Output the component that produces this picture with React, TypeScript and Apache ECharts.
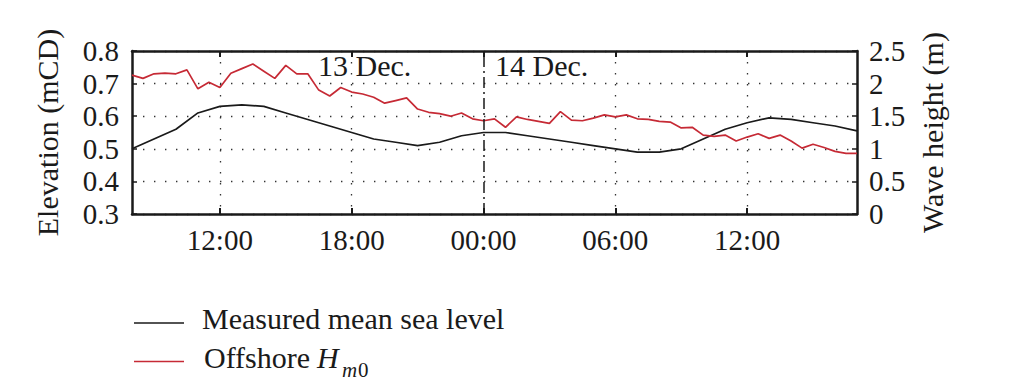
import React, { useEffect, useRef } from "react";
import * as echarts from "echarts";

// Time axis: half-hourly steps from 13 Dec 08:00 to 14 Dec 17:00
const startHour = 8;
const stepHours = 0.5;
const pointCount = 67;
const categories: string[] = Array.from({ length: pointCount }, (_, i) => {
  const h = startHour + i * stepHours;
  const day = h >= 24 ? 14 : 13;
  const hh = Math.floor(h % 24);
  const mm = h % 1 ? "30" : "00";
  return `${day}|${String(hh).padStart(2, "0")}:${mm}`;
});

// Indices of labelled ticks (12:00, 18:00, 00:00, 06:00, 12:00)
const labelIndices = [8, 20, 32, 44, 56];
const gridIndices = [8, 20, 44, 56];
const dayBreakIndex = 32;

// Measured mean sea level (mCD), hourly from 08:00 13 Dec to 17:00 14 Dec
const meanSeaLevel = [
  0.5, 0.53, 0.56, 0.61, 0.63, 0.635, 0.63, 0.61, 0.59, 0.57, 0.55, 0.53,
  0.52, 0.51, 0.52, 0.54, 0.55, 0.55, 0.54, 0.53, 0.52, 0.51, 0.5, 0.49,
  0.49, 0.5, 0.53, 0.56, 0.58, 0.595, 0.59, 0.58, 0.57, 0.555,
];

// Offshore Hm0 (m), half-hourly
const offshoreHm0 = [
  2.13, 2.08, 2.15, 2.16, 2.15, 2.21, 1.92, 2.02, 1.94, 2.16, 2.23, 2.3,
  2.19, 2.08, 2.28, 2.15, 2.15, 1.9, 1.81, 1.94, 1.87, 1.84, 1.79, 1.7,
  1.74, 1.78, 1.61, 1.56, 1.54, 1.5, 1.55, 1.46, 1.43, 1.46, 1.33, 1.49,
  1.45, 1.42, 1.39, 1.57, 1.44, 1.43, 1.47, 1.52, 1.49, 1.52, 1.46, 1.45,
  1.42, 1.41, 1.32, 1.33, 1.21, 1.19, 1.21, 1.12, 1.18, 1.23, 1.16, 1.21,
  1.12, 1.01, 1.07, 1.02, 0.96, 0.93, 0.93,
];

const seriesNames = ["Measured mean sea level", "Offshore Hm0"];
const dayLabels = ["13 Dec.", "14 Dec."];
const leftAxisName = "Elevation (mCD)";
const rightAxisName = "Wave height (m)";

const FONT = "'Liberation Serif', 'Times New Roman', serif";
const INK = "#1a1a1a";
const RED = "#c62a35";
const TICK_FS = 29;
const TEXT_FS = 30;

export default function App() {
  const ref = useRef<HTMLDivElement>(null);

  useEffect(() => {
    if (!ref.current) return;
    const chart = echarts.init(ref.current, undefined, { renderer: "svg" });

    const mslData = categories.map((_, i) =>
      i % 2 === 0 ? meanSeaLevel[i / 2] : null
    );

    const dotted = { color: "#333", width: 1.3, type: [1.4, 9.6] as number[] };

    const xBase = {
      type: "category" as const,
      data: categories,
      boundaryGap: false,
      axisLine: { show: true, lineStyle: { color: INK, width: 2.5 } },
    };

    chart.setOption({
      animation: false,
      grid: { left: 132, right: 160, top: 51, bottom: 173, containLabel: false },
      xAxis: [
        {
          ...xBase,
          position: "bottom",
          axisTick: {
            show: true,
            inside: true,
            length: 6,
            lineStyle: { color: INK, width: 2 },
            interval: (i: number) => labelIndices.includes(i),
          },
          axisLabel: {
            show: true,
            interval: (i: number) => labelIndices.includes(i),
            formatter: (v: string) => v.split("|")[1],
            fontFamily: FONT,
            fontSize: TICK_FS,
            color: INK,
            margin: 11,
          },
          splitLine: {
            show: true,
            interval: (i: number) => gridIndices.includes(i),
            lineStyle: dotted,
          },
        },
        {
          ...xBase,
          position: "top",
          axisTick: {
            show: true,
            inside: true,
            length: 6,
            lineStyle: { color: INK, width: 2 },
            interval: (i: number) => labelIndices.includes(i),
          },
          axisLabel: { show: false },
          splitLine: { show: false },
        },
      ],
      yAxis: [
        {
          type: "value",
          position: "left",
          min: 0.3,
          max: 0.8,
          interval: 0.1,
          name: leftAxisName,
          nameLocation: "middle",
          nameRotate: 90,
          nameGap: 70,
          nameTextStyle: { fontFamily: FONT, fontSize: TEXT_FS, color: INK },
          axisLine: { show: true, lineStyle: { color: INK, width: 2.5 } },
          axisTick: { show: true, inside: true, length: 5, lineStyle: { color: INK, width: 1.5 } },
          axisLabel: {
            fontFamily: FONT,
            fontSize: TICK_FS,
            color: INK,
            margin: 13,
            formatter: (v: number) => v.toFixed(1),
          },
          splitLine: { show: true, lineStyle: dotted },
        },
        {
          type: "value",
          position: "right",
          min: 0,
          max: 2.5,
          interval: 0.5,
          name: rightAxisName,
          nameLocation: "middle",
          nameRotate: 90,
          nameGap: 60,
          nameTextStyle: { fontFamily: FONT, fontSize: TEXT_FS, color: INK },
          axisLine: { show: true, lineStyle: { color: INK, width: 2.5 } },
          axisTick: { show: true, inside: true, length: 5, lineStyle: { color: INK, width: 1.5 } },
          axisLabel: {
            fontFamily: FONT,
            fontSize: TICK_FS,
            color: INK,
            margin: 12,
          },
          splitLine: { show: false },
        },
      ],
      series: [
        {
          name: seriesNames[0],
          type: "line",
          xAxisIndex: 0,
          yAxisIndex: 0,
          data: mslData,
          connectNulls: true,
          showSymbol: false,
          symbol: "none",
          lineStyle: { color: INK, width: 1.7 },
          z: 3,
          markLine: {
            silent: true,
            symbol: "none",
            label: { show: false },
            lineStyle: { color: INK, width: 1.5, type: [11, 4, 2, 4] },
            data: [{ xAxis: categories[dayBreakIndex] }],
          },
        },
        {
          name: seriesNames[1],
          type: "line",
          xAxisIndex: 0,
          yAxisIndex: 1,
          data: offshoreHm0,
          showSymbol: false,
          symbol: "none",
          lineStyle: { color: RED, width: 1.7 },
          z: 4,
        },
      ],
      graphic: [
        {
          type: "text",
          left: 318,
          top: 50,
          style: { text: dayLabels[0], fontFamily: FONT, fontSize: TEXT_FS, fill: INK },
        },
        {
          type: "text",
          left: 495,
          top: 50,
          style: { text: dayLabels[1], fontFamily: FONT, fontSize: TEXT_FS, fill: INK },
        },
        // legend
        {
          type: "line",
          shape: { x1: 134, y1: 323, x2: 184, y2: 323 },
          style: { stroke: INK, lineWidth: 1.6 },
        },
        {
          type: "text",
          left: 202,
          top: 303,
          style: { text: seriesNames[0], fontFamily: FONT, fontSize: TEXT_FS, fill: INK },
        },
        {
          type: "line",
          shape: { x1: 134, y1: 361.5, x2: 184, y2: 361.5 },
          style: { stroke: RED, lineWidth: 1.6 },
        },
        {
          type: "text",
          left: 204,
          top: 342,
          style: { text: "Offshore", fontFamily: FONT, fontSize: TEXT_FS, fill: INK },
        },
        {
          type: "text",
          left: 317,
          top: 342,
          style: { text: "H", fontFamily: FONT, fontSize: TEXT_FS, fontStyle: "italic", fill: INK },
        },
        {
          type: "text",
          left: 342,
          top: 359,
          style: { text: "m", fontFamily: FONT, fontSize: 21, fontStyle: "italic", fill: INK },
        },
        {
          type: "text",
          left: 358,
          top: 359,
          style: { text: "0", fontFamily: FONT, fontSize: 21, fill: INK },
        },
      ],
    });

    return () => chart.dispose();
  }, []);

  return (
    <div
      ref={ref}
      style={{ position: "fixed", left: 0, top: 0, width: 1017, height: 387, background: "#fff" }}
    />
  );
}
